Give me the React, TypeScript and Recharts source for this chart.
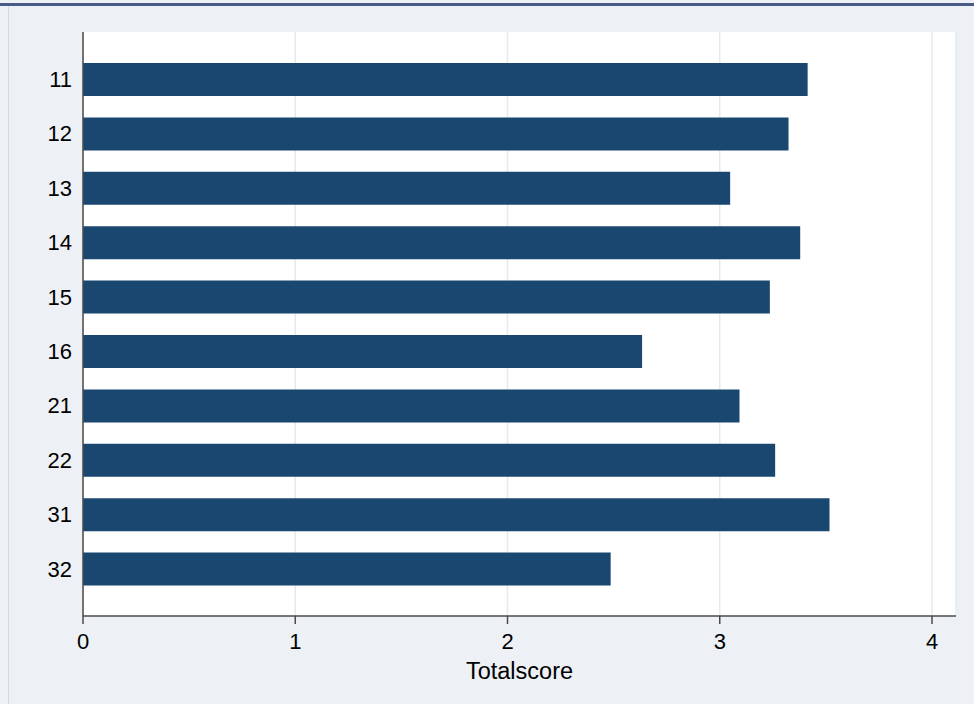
import { BarChart, Bar, XAxis, YAxis, CartesianGrid } from 'recharts';

const groups = ['11', '12', '13', '14', '15', '16', '21', '22', '31', '32'];
const totalscore = [3.414, 3.324, 3.049, 3.379, 3.236, 2.634, 3.093, 3.261, 3.517, 2.486];
const xTicks = [0, 1, 2, 3, 4];

const data = groups.map((g, i) => ({ group: g, totalscore: totalscore[i] }));

const font = '"Liberation Sans", Arial, sans-serif';
const axisColor = '#4a4a4a';

export default function App() {
  return (
    <div
      style={{
        position: 'fixed',
        left: 0,
        top: 0,
        width: 974,
        height: 704,
        background: '#edf1f6',
        fontFamily: font,
        overflow: 'hidden',
      }}
    >
      <div style={{ position: 'absolute', left: 0, top: 3, width: 974, height: 3, background: '#485b85' }} />
      <div style={{ position: 'absolute', left: 8, top: 6, width: 1, height: 698, background: '#d6d9de' }} />
      <div style={{ position: 'absolute', left: 0, top: 0 }}>
        <BarChart
          width={974}
          height={704}
          data={data}
          layout="vertical"
          margin={{ top: 32, right: 18, left: 23, bottom: 0 }}
        >
          <CartesianGrid
            horizontal={false}
            stroke="#e4eaf2"
            strokeWidth={1.5}
            fill="#ffffff"
          />
          <XAxis
            type="number"
            domain={[0, 4.113]}
            ticks={xTicks}
            height={88}
            axisLine={{ stroke: axisColor, strokeWidth: 1.5 }}
            tickLine={{ stroke: axisColor, strokeWidth: 1.5 }}
            tickSize={8}
            tickMargin={9}
            tick={{ fontSize: 22, fill: '#000', fontFamily: font }}
            label={{
              value: 'Totalscore',
              position: 'insideBottom',
              offset: 25,
              fontSize: 23.5,
              fill: '#000',
              fontFamily: font,
            }}
          />
          <YAxis
            type="category"
            dataKey="group"
            width={60}
            padding={{ top: 20, bottom: 20 }}
            axisLine={{ stroke: axisColor, strokeWidth: 1.5 }}
            tickLine={false}
            tickSize={0}
            tickMargin={11}
            tick={{ fontSize: 22, fill: '#000', fontFamily: font }}
          />
          <Bar dataKey="totalscore" fill="#1a476f" barSize={33} isAnimationActive={false} />
        </BarChart>
      </div>
    </div>
  );
}
